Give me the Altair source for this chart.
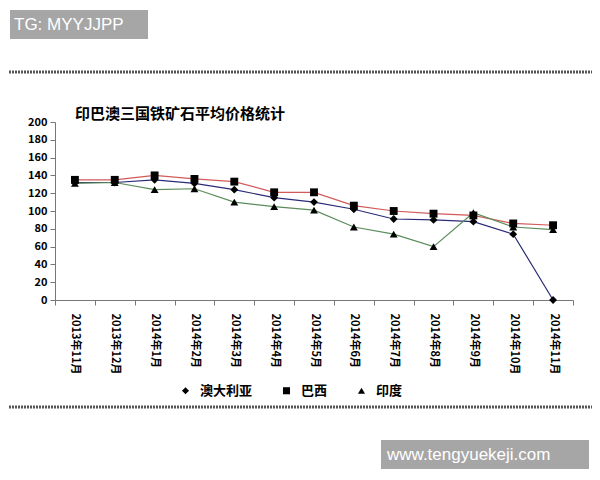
import altair as alt
import pandas as pd

months = ["2013年11月", "2013年12月", "2014年1月", "2014年2月", "2014年3月", "2014年4月",
          "2014年5月", "2014年6月", "2014年7月", "2014年8月", "2014年9月", "2014年10月", "2014年11月"]
series_names = ["澳大利亚", "巴西", "印度"]
line_colors = ["#2b2b78", "#d25a5a", "#5b8c5b"]
aus = [132, 132, 135, 131, 124, 115, 110, 102, 91, 90, 88, 74, 0]
bra = [135, 135, 140, 136, 133, 121, 121, 106, 100, 97, 95, 86, 84]
ind = [131, 132, 124, 125, 110, 105, 101, 82, 74, 60, 98, 82, 79]
y_ticks = list(range(0, 201, 20))
title_text = "印巴澳三国铁矿石平均价格统计"

rows = []
for name, vals in zip(series_names, [aus, bra, ind]):
    for m, v in zip(months, vals):
        rows.append({"月份": m, "系列": name, "价格": v})
df = pd.DataFrame(rows)

FONT = "Noto Sans CJK SC"

x_enc = alt.X("月份:O", sort=months, title=None,
              scale=alt.Scale(type="band", paddingInner=0, paddingOuter=0),
              axis=alt.Axis(tickBand="extent", labelAngle=90, labelAlign="left",
                            labelBaseline="middle", labelFont=FONT, labelFontWeight="bold",
                            labelFontSize=11, labelColor="black", labelPadding=8,
                            domainColor="#777", tickColor="#777", tickSize=5))
y_enc = alt.Y("价格:Q", title=None,
              scale=alt.Scale(domain=[0, 200], nice=False),
              axis=alt.Axis(values=y_ticks, grid=False, labelFont=FONT, labelFontWeight="bold",
                            labelFontSize=11, labelColor="black", domainColor="#777",
                            tickColor="#777", tickSize=5, labelPadding=3))

base = alt.Chart(df)
line_layers = [
    base.transform_filter(alt.datum["系列"] == name).mark_line(strokeWidth=1.2, color=col).encode(
        x=x_enc, y=y_enc)
    for name, col in zip(series_names, line_colors)
]

points = base.mark_point(filled=True, color="black", opacity=1, size=62).encode(
    x=x_enc, y=y_enc,
    shape=alt.Shape("系列:N", sort=series_names,
                    scale=alt.Scale(domain=series_names, range=["diamond", "square", "triangle-up"]),
                    legend=alt.Legend(title=None, orient="none", direction="horizontal",
                                      legendX=124, legendY=262, labelFont=FONT,
                                      labelFontWeight="bold", labelFontSize=13,
                                      labelColor="black", symbolFillColor="black",
                                      symbolStrokeColor="black", symbolSize=50,
                                      columnPadding=26, labelOffset=8)),
)

one = pd.DataFrame({"a": [0]})
title = alt.Chart(pd.DataFrame({"t": [title_text]})).mark_text(
    font=FONT, fontSize=15, fontWeight="bold", color="black", align="left",
    baseline="middle").encode(text="t:N", x=alt.value(20), y=alt.value(-8))

# decorations: separators and watermark boxes
sep1 = alt.Chart(one).mark_rule(color="#555", strokeWidth=3, strokeDash=[2, 1]).encode(
    x=alt.value(-55), x2=alt.value(545), y=alt.value(-50))
sep2 = alt.Chart(one).mark_rule(color="#555", strokeWidth=3, strokeDash=[2, 1]).encode(
    x=alt.value(-55), x2=alt.value(545), y=alt.value(285))

box1 = alt.Chart(one).mark_rect(color="#a6a6a6").encode(
    x=alt.value(-45), x2=alt.value(93), y=alt.value(-112), y2=alt.value(-83))
txt1 = alt.Chart(pd.DataFrame({"t": ["TG: MYYJJPP"]})).mark_text(
    color="white", font="Liberation Sans", fontSize=17, align="left", baseline="middle").encode(
    text="t:N", x=alt.value(-41), y=alt.value(-97))
box2 = alt.Chart(one).mark_rect(color="#a6a6a6").encode(
    x=alt.value(326), x2=alt.value(534), y=alt.value(318), y2=alt.value(347))
txt2 = alt.Chart(pd.DataFrame({"t": ["www.tengyuekeji.com"]})).mark_text(
    color="white", font="Liberation Sans", fontSize=17, align="left", baseline="middle").encode(
    text="t:N", x=alt.value(332), y=alt.value(333))

chart = alt.layer(*line_layers, points, title, sep1, sep2, box1, txt1, box2, txt2).properties(
    width=518, height=178,
    autosize=alt.AutoSizeParams(type="none"),
    padding={"left": 47, "top": 114, "right": 19, "bottom": 175},
    view=alt.ViewBackground(strokeOpacity=0, strokeWidth=0),
).configure_view(strokeOpacity=0, strokeWidth=0).configure(background="white")

chart.save("out.html", embed_options={"renderer": "svg", "actions": False})
